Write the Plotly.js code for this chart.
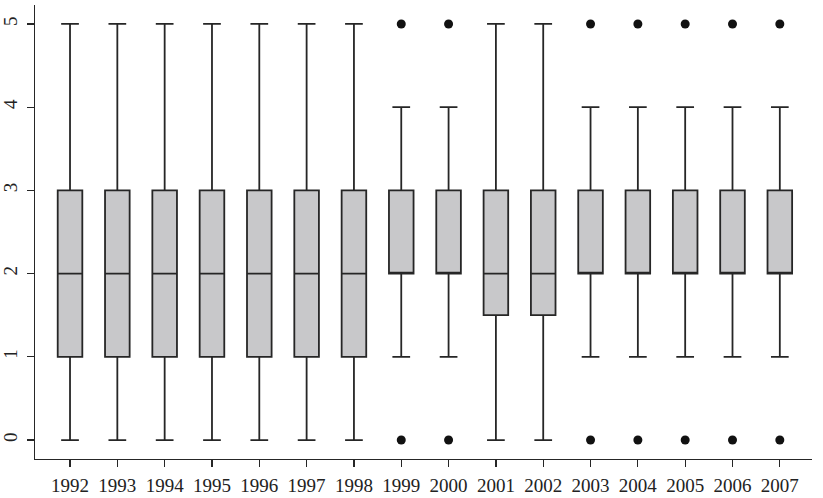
<!DOCTYPE html>
<html>
<head>
<meta charset="utf-8">
<script src="https://cdn.plot.ly/plotly-3.0.1.min.js"></script>
<style>html,body{margin:0;padding:0;background:#fff;}#chart{width:823px;height:498px;}</style>
</head>
<body>
<div id="chart"></div>
<script>
const years = ['1992','1993','1994','1995','1996','1997','1998','1999','2000','2001','2002','2003','2004','2005','2006','2007'];
const lowerWhisker = [0,0,0,0,0,0,0,1,1,0,0,1,1,1,1,1];
const q1Values     = [1,1,1,1,1,1,1,2,2,1.5,1.5,2,2,2,2,2];
const medians      = [2,2,2,2,2,2,2,2,2,2,2,2,2,2,2,2];
const q3Values     = [3,3,3,3,3,3,3,3,3,3,3,3,3,3,3,3];
const upperWhisker = [5,5,5,5,5,5,5,4,4,5,5,4,4,4,4,4];
const outlierYears = ['1999','1999','2000','2000','2003','2003','2004','2004','2005','2005','2006','2006','2007','2007'];
const outlierValues = [0,5,0,5,0,5,0,5,0,5,0,5,0,5];
const yTicks = [0,1,2,3,4,5];

const lineCol = '#262626';
const boxTrace = {
  type: 'box',
  x: years,
  q1: q1Values,
  median: medians,
  q3: q3Values,
  lowerfence: lowerWhisker,
  upperfence: upperWhisker,
  fillcolor: '#c8c8ca',
  line: {color: lineCol, width: 1.8},
  whiskerwidth: 0.72,
  width: 0.52,
  boxpoints: false,
  hoverinfo: 'skip',
  showlegend: false
};
const outTrace = {
  type: 'scatter',
  mode: 'markers',
  x: outlierYears,
  y: outlierValues,
  marker: {color: '#111', size: 9},
  hoverinfo: 'skip',
  showlegend: false
};
const layout = {
  width: 823, height: 498,
  margin: {l: 35, r: 11, t: 5, b: 39},
  paper_bgcolor: '#fff', plot_bgcolor: '#fff',
  font: {family: '"Liberation Serif", "Times New Roman", serif', size: 19, color: '#222'},
  xaxis: {
    type: 'category',
    categoryarray: years,
    range: [-0.74, 15.68],
    showgrid: false, zeroline: false,
    showline: true, linecolor: lineCol, linewidth: 1.2,
    ticks: 'outside', ticklen: 7, tickcolor: lineCol, tickwidth: 1.2,
    ticklabelstandoff: 2,
    tickfont: {size: 19}
  },
  yaxis: {
    range: [-0.228, 5.228],
    tickvals: yTicks,
    ticktext: yTicks.map(String),
    tickangle: -90,
    showgrid: false, zeroline: false,
    showline: true, linecolor: lineCol, linewidth: 1.2,
    ticks: 'outside', ticklen: 7, tickcolor: lineCol, tickwidth: 1.2,
    ticklabelstandoff: 2,
    tickfont: {size: 19}
  }
};
Plotly.newPlot('chart', [boxTrace, outTrace], layout, {displayModeBar: false, staticPlot: true});
</script>
</body>
</html>
